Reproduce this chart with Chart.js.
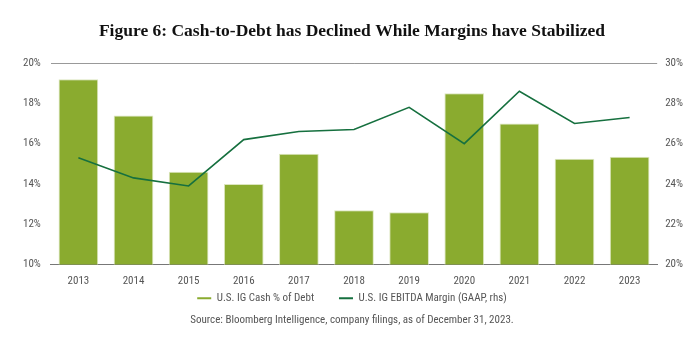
<!DOCTYPE html>
<html lang="en">
<head>
  <title>Figure 6: Cash-to-Debt has Declined While Margins have Stabilized</title>
  <script src="https://cdn.jsdelivr.net/npm/chart.js@4.4.0/dist/chart.umd.min.js"></script>
  <style>
    html, body { margin: 0; padding: 0; background: #fff; }
    #wrap { width: 700px; height: 350px; }
  </style>
</head>
<body>
  <div id="wrap"><canvas id="cashChart"></canvas></div>

  <script>
    // data
    const years = ['2013', '2014', '2015', '2016', '2017', '2018', '2019', '2020', '2021', '2022', '2023'];
    const cashPctDebt = [19.2, 17.4, 14.6, 14.0, 15.5, 12.7, 12.6, 18.5, 17.0, 15.25, 15.35];
    const ebitdaMargin = [25.3, 24.3, 23.9, 26.2, 26.6, 26.7, 27.8, 26.0, 28.6, 27.0, 27.3];

    const barGreen = '#8aab2f';
    const lineGreen = '#16703f';
    const textGray = '#555555';
    const tickFont = { family: "'Roboto Condensed', 'DejaVu Sans Condensed', Roboto, sans-serif", size: 11 };

    new Chart(document.getElementById('cashChart'), {
      data: {
        labels: years,
        datasets: [
          {
            type: 'line',
            label: 'U.S. IG EBITDA Margin (GAAP, rhs)',
            data: ebitdaMargin,
            yAxisID: 'y1',
            borderColor: lineGreen,
            backgroundColor: lineGreen,
            borderWidth: 1.6,
            pointRadius: 0,
            tension: 0,
            order: 0
          },
          {
            type: 'bar',
            label: 'U.S. IG Cash % of Debt',
            data: cashPctDebt,
            yAxisID: 'y',
            backgroundColor: barGreen,
            borderColor: '#dce6bf',
            borderWidth: { top: 1, left: 1, right: 1, bottom: 0 },
            borderSkipped: 'bottom',
            categoryPercentage: 0.72,
            barPercentage: 1.0,
            order: 1
          }
        ]
      },
      options: {
        responsive: true,
        maintainAspectRatio: false,
        animation: false,
        layout: { padding: { left: 13, right: 9, top: 4, bottom: 23 } },
        plugins: {
          title: {
            display: true,
            text: 'Figure 6: Cash-to-Debt has Declined While Margins have Stabilized',
            color: '#111',
            font: { family: "'Liberation Serif', 'DejaVu Serif', serif", size: 17.5, weight: 'bold' },
            padding: { top: 17, bottom: 21 }
          },
          legend: {
            position: 'bottom',
            reverse: true,
            labels: {
              color: textGray,
              font: tickFont,
              boxWidth: 14,
              boxHeight: 2,
              padding: 3,
              // widen the gap after the first item without changing the legend height
              generateLabels: chart => {
                const items = Chart.defaults.plugins.legend.labels.generateLabels(chart);
                items.forEach(it => {
                  if (it.datasetIndex === 1) it.text = it.text + '\u2003\u2003 ';
                  it.lineWidth = 0;
                });
                return items;
              }
            }
          },
          subtitle: {
            display: true,
            position: 'bottom',
            text: 'Source: Bloomberg Intelligence, company filings, as of December 31, 2023.',
            color: textGray,
            font: tickFont,
            padding: 0
          },
          tooltip: { enabled: false }
        },
        scales: {
          x: {
            grid: { display: false },
            border: { color: '#777', width: 1 },
            ticks: { color: textGray, font: tickFont, padding: 2 }
          },
          y: {
            position: 'left',
            min: 10,
            max: 20,
            border: { display: false },
            grid: {
              drawTicks: false,
              color: ctx => ctx.tick.value === 20 ? '#999' : 'rgba(0,0,0,0)'
            },
            ticks: {
              stepSize: 2,
              color: textGray,
              font: tickFont,
              padding: 10,
              callback: v => v + '%'
            }
          },
          y1: {
            position: 'right',
            min: 20,
            max: 30,
            border: { display: false },
            grid: { display: false, drawTicks: false },
            ticks: {
              stepSize: 2,
              color: textGray,
              font: tickFont,
              padding: 8,
              callback: v => v + '%'
            }
          }
        }
      }
    });
  </script>
</body>
</html>
